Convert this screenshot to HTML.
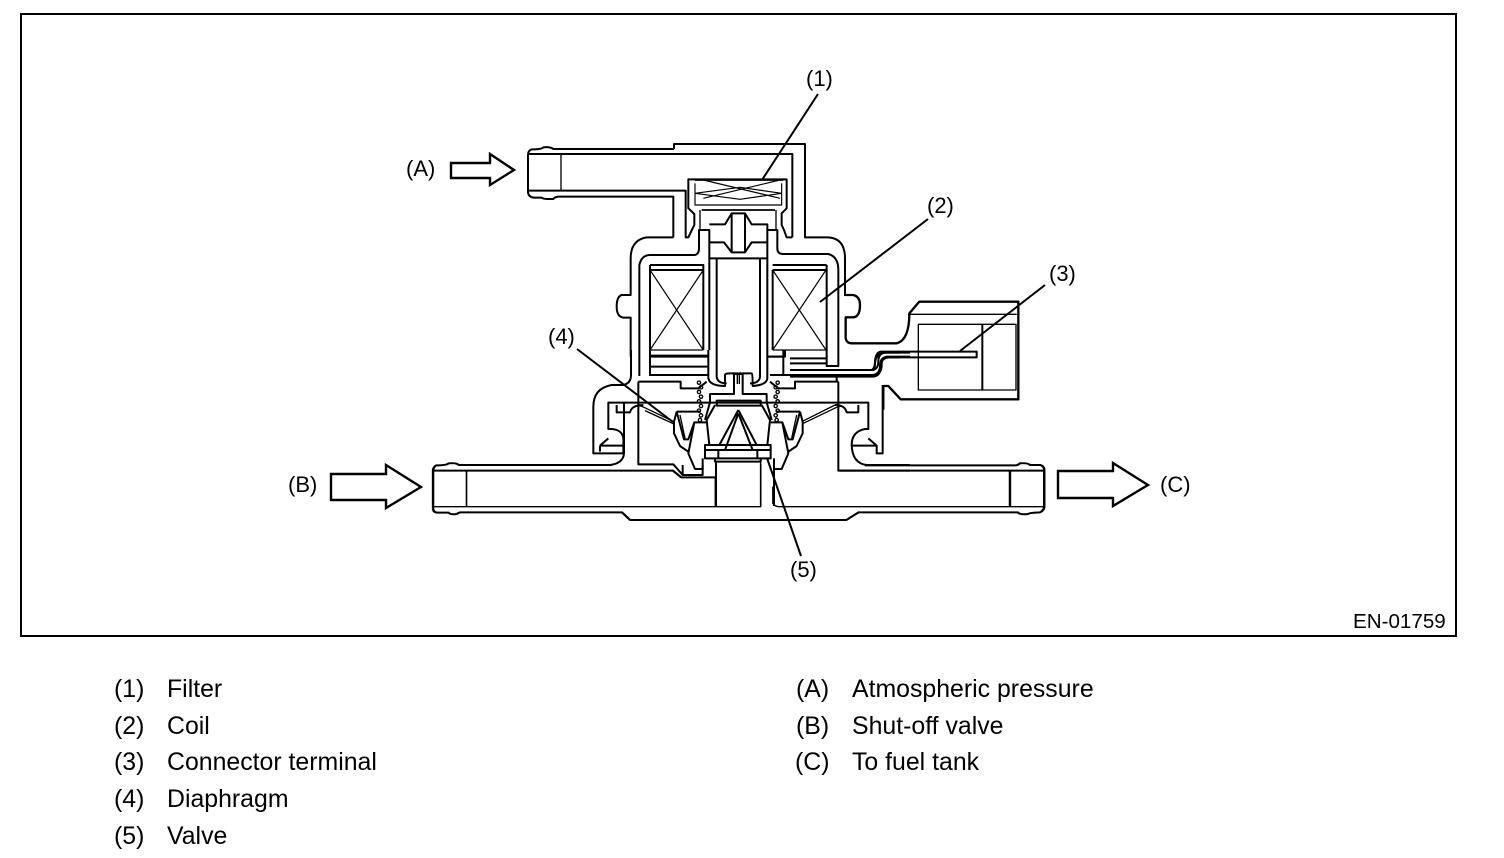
<!DOCTYPE html>
<html><head><meta charset="utf-8"><style>
html,body{margin:0;padding:0;background:#fff}
svg{display:block}
text{font-family:"Liberation Sans",sans-serif;fill:#000}
.l{font-size:24.85px}
.d{font-size:22px}
path,line,rect,polyline,polygon,circle{fill:none;stroke:#000}
</style></head><body>
<svg width="1504" height="858" viewBox="0 0 1504 858" xmlns="http://www.w3.org/2000/svg">
<defs>
 <g id="half" stroke-linejoin="round">
  <path d="M50 125H122M50 125L42 155V190L60 228L85 245" stroke-width="6"/>
  <path d="M50 125L72 208H85L103 157H138M103 157L85 250L105 297H128V265" stroke-width="6"/>
  <path d="M60 135L75 205" stroke-width="4"/>
  <path d="M165 105L140 150L148 225M150 72V97L135 150" stroke-width="6"/>
  <g stroke-width="4">
   <circle cx="117" cy="38" r="5"/><circle cx="123" cy="52" r="5"/><circle cx="117" cy="66" r="5"/><circle cx="123" cy="80" r="5"/><circle cx="117" cy="94" r="5"/><circle cx="123" cy="108" r="5"/><circle cx="117" cy="122" r="5"/><circle cx="123" cy="136" r="5"/><circle cx="120" cy="150" r="5"/>
  </g>
 </g>
</defs>
<rect width="1504" height="858" style="fill:#fff;stroke:none"/>
<rect x="21" y="14" width="1435" height="622" stroke-width="2"/>

<!-- top part, zoom-1 coordinates -->
<g transform="translate(500,130) scale(.33333)" stroke-linejoin="round">
 <g stroke-width="6">
  <path d="M522 57V42H915V322H985Q1035 325 1035 385V498"/>
  <path d="M522 57H160Q150 50 130 52Q125 58 95 58Q84 62 84 75V185Q84 200 100 203H125Q130 208 160 207Q162 202 175 200H520V322"/>
  <path d="M520 322H440Q392 330 392 385V495H365Q350 500 350 530Q350 560 370 563H392V680"/>
  <path d="M84 72H877V322M877 322H860L852 300L845 285V250L860 235V148H565V235L583 252V285L565 322H557V182H84"/>
  <path d="M183 75V182" stroke-width="4"/>
  <path d="M418 738V405Q425 375 450 375H585Q597 372 597 355V300H628V385H802V300H832V355Q832 372 850 372H985Q1015 380 1015 420V708H980V405"/>
  <path d="M628 283H675L695 250H735L755 283H802V300M628 337H672L695 367H735L755 337H802"/>
  <path d="M695 250V367M735 250V367"/>
  <path d="M650 385V660M780 385V660M628 385V660M802 385V660"/>
  <path d="M450 405H610V660M450 405V738M818 405H980M818 420V660M450 420H610M818 420H980"/>
  <path d="M450 680H625M802 680H855V660M870 685H980M870 700H980"/>
  <path d="M870 720H1115Q1125 718 1125 700Q1127 668 1160 668H1200M870 740H1120Q1142 738 1142 710Q1142 682 1170 682H1200"/>
  <path d="M600 240V300M828 240V300" stroke-width="4"/>
 </g>
 <g stroke-width="3.5">
  <path d="M450 420L610 660M610 420L450 660M818 420L978 660M978 420L818 660"/>
  <path d="M450 660H610M818 660H978"/>
  <path d="M585 160V225H845V160M610 150L840 205M840 150L610 205M585 190L720 172L845 190M585 190L720 208L845 190"/>
  <path d="M585 150H850" stroke-width="5"/>
  <path d="M605 240H825" stroke-width="5"/>
 </g>
</g>

<!-- body housing, zoom-2 coordinates -->
<g transform="translate(570,350) scale(.33333)" stroke-linejoin="round">
 <g stroke-width="6">
  <path d="M183 0V75Q183 100 160 105H125Q70 115 70 170V310H160V280Q165 240 125 237H115V158H895V237H885Q845 245 845 285Q847 340 890 345H1020"/>
  <path d="M140 165V187H180Q185 165 220 165M865 165V187H830Q825 165 795 165"/>
  <path d="M90 287V305M90 287H160M115 265L90 287M920 287H845M895 265L920 287V310H938V105"/>
  <path d="M0 345H120Q160 340 162 310V158"/>
  <path d="M205 95V343H310L338 375"/>
  <path d="M205 95H332V115H385L410 95"/>
  <path d="M805 95V362H1020M805 95H675V115H625L600 95"/>
  <path d="M338 345V375H398V345"/>
  <path d="M438 335V468M612 345V468"/>
  <path d="M572 335V468" stroke-width="3.5"/>
  <path d="M415 0V85Q420 108 465 108V75Q465 70 480 70H545Q548 72 548 108Q590 105 592 85V0M440 0V80Q442 100 470 100M570 0V80Q568 100 540 100"/>
  <path d="M240 0V75H415M240 17H415M240 50H415M590 20H640M640 0V75H800V95M660 60H910Q925 55 925 35Q925 10 945 8H1020M660 75H915Q935 70 935 45Q935 22 950 20H1020M600 75H660"/>
  <path d="M185 175Q205 162 222 172L312 215M225 182L312 222M695 215L795 165M700 220L800 172Q815 165 825 175" stroke-width="4"/>
 </g>
</g>

<!-- centre valve, zoom-5 coordinates -->
<g transform="translate(660,370) scale(.33333)" stroke-linejoin="round">
 <use href="#half"/>
 <use href="#half" transform="translate(470,0) scale(-1,1)"/>
 <g stroke-width="6">
  <path d="M148 72H222V12H248V72H322"/>
  <path d="M232 12V42M238 12V42" stroke-width="4"/>
  <path d="M170 92H302V107H170Z"/>
  <path d="M235 120L178 225M235 120L290 225M235 130L195 240M235 130L278 240"/>
  <path d="M135 225H332V265H135ZM135 240H332M175 240V265M292 240V265"/>
  <path d="M165 265V275H302V265"/>
 </g>
</g>

<!-- bottom tube, zoom-4 coordinates -->
<g transform="translate(420,450) scale(.408,.33333)" stroke-linejoin="round" stroke-width="6">
 <path d="M470 45H95Q90 38 70 40Q65 46 40 46Q32 52 32 62V175Q32 188 45 188H70Q75 195 90 192Q95 187 100 187H495L515 210H1045L1075 187H1465Q1470 195 1490 192Q1495 188 1520 187Q1530 180 1530 170V60Q1530 48 1520 45H1495Q1490 38 1470 40Q1465 46 1460 46H1090"/>
 <path d="M32 62H620L640 82H725V170M1030 62H1530"/>
 <path d="M32 170H835V40M865 110V160Q870 170 880 170H1530" stroke-width="4"/>
 <path d="M114 62V170" stroke-width="4"/>
 <path d="M1446 62V170"/>
</g>

<!-- connector, zoom-3 coordinates -->
<g transform="translate(830,280) scale(.33333)" stroke-linejoin="round">
 <path d="M47 45H70Q90 50 90 75Q90 110 70 112H47V175Q50 190 65 190H200Q238 180 238 100L268 65H565V358H212L175 318H160V389" stroke-width="7"/>
 <path d="M240 103H560" stroke-width="4"/>
 <path d="M265 133H558V330H265Z" stroke-width="4"/>
 <path d="M457 133V330" stroke-width="6"/>
 <path d="M0 270H125Q135 265 135 245Q137 215 155 215H440V232H165Q150 235 150 260Q148 285 125 285H0" stroke-width="6"/>
</g>

<!-- leaders -->
<g stroke-width="2">
 <line x1="818" y1="94" x2="762" y2="180"/>
 <line x1="928" y1="219" x2="820" y2="302"/>
 <line x1="1045" y1="285" x2="960" y2="351"/>
 <line x1="577" y1="349" x2="673" y2="422"/>
 <line x1="801" y1="556" x2="767" y2="458"/>
</g>

<!-- arrows -->
<g stroke-width="2.4" stroke-linejoin="miter">
 <polygon points="451,163 490,163 490,154 514,170 490,185 490,178 451,178"/>
 <polygon points="331,474 386,474 386,465 421,487 386,508 386,500 331,500"/>
 <polygon points="1058,471 1113,471 1113,463 1148,485 1113,506 1113,498 1058,498"/>
</g>

<!-- diagram labels -->
<text class="d" x="806" y="86">(1)</text>
<text class="d" x="927" y="213">(2)</text>
<text class="d" x="1049" y="281">(3)</text>
<text class="d" x="548" y="344">(4)</text>
<text class="d" x="790" y="577">(5)</text>
<text class="d" x="406" y="176">(A)</text>
<text class="d" x="288" y="492">(B)</text>
<text class="d" x="1160" y="492">(C)</text>
<text x="1353" y="628" style="font-size:20.6px">EN-01759</text>

<!-- legend -->
<text class="l" x="114" y="697">(1)</text><text class="l" x="167" y="697">Filter</text>
<text class="l" x="114" y="734">(2)</text><text class="l" x="167" y="734">Coil</text>
<text class="l" x="114" y="770">(3)</text><text class="l" x="167" y="770">Connector terminal</text>
<text class="l" x="114" y="807">(4)</text><text class="l" x="167" y="807">Diaphragm</text>
<text class="l" x="114" y="844">(5)</text><text class="l" x="167" y="844">Valve</text>
<text class="l" x="796" y="697">(A)</text><text class="l" x="852" y="697">Atmospheric pressure</text>
<text class="l" x="796" y="734">(B)</text><text class="l" x="852" y="734">Shut-off valve</text>
<text class="l" x="795" y="770">(C)</text><text class="l" x="852" y="770">To fuel tank</text>
</svg>
</body></html>
